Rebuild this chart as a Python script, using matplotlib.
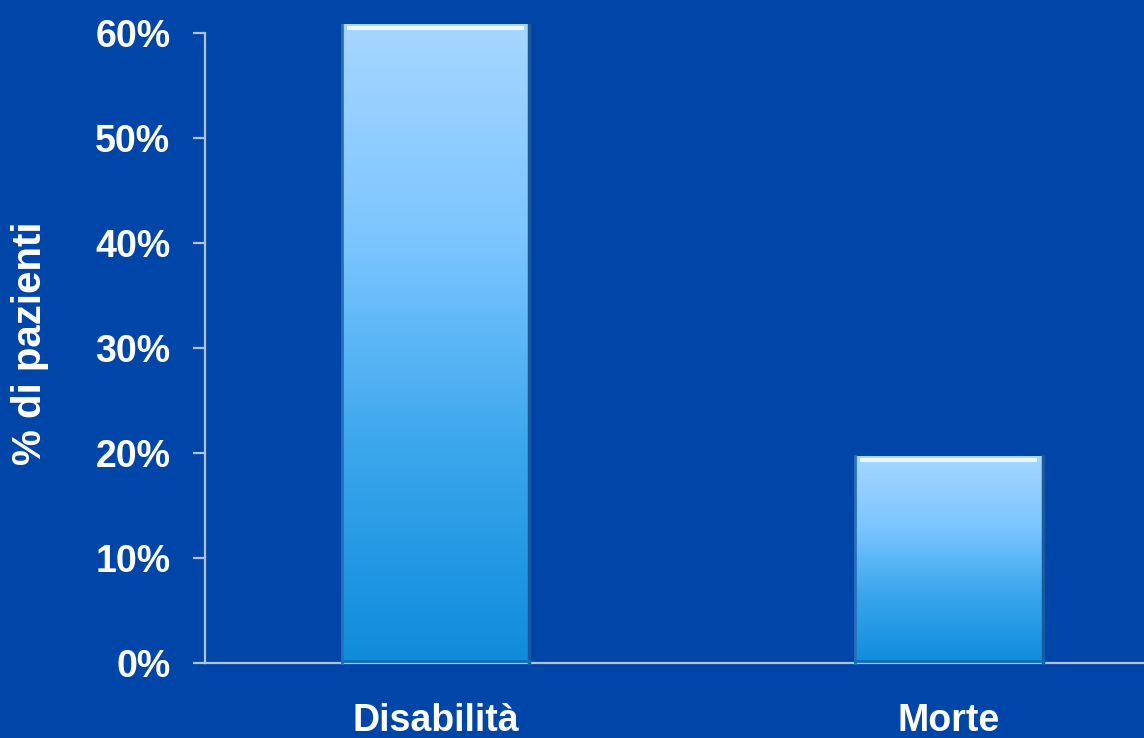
import numpy as np
import matplotlib
matplotlib.use("Agg")
import matplotlib.pyplot as plt
from matplotlib.colors import LinearSegmentedColormap

categories = ["Disabilità", "Morte"]
values = [60.8, 19.7]
yticks = [0, 10, 20, 30, 40, 50, 60]
ytick_labels = ["0%", "10%", "20%", "30%", "40%", "50%", "60%"]
ylabel = "% di pazienti"

bg = "#0045A8"
axis_col = "#AFC3E6"
plt.rcParams['font.family'] = ['Liberation Sans', 'DejaVu Sans']

fig = plt.figure(figsize=(11.44, 7.38), dpi=100, facecolor=bg)
ax = fig.add_axes([205/1144, 75/738, 1 - 205/1144, (663-33)/738])
ax.set_facecolor(bg)

x = np.arange(len(categories))
width = 0.365
bars = ax.bar(x, values, width=width, color="none", edgecolor="none", clip_on=False, zorder=2)

cmap = LinearSegmentedColormap.from_list("g", ["#0F8CDC", "#3AA6EC", "#7CC6FF", "#A6D6FF"])
grad = np.linspace(0, 1, 256).reshape(-1, 1)
for b in bars:
    x0, w, h = b.get_x(), b.get_width(), b.get_height()
    ax.imshow(grad, cmap=cmap, origin="lower", aspect="auto",
              extent=(x0, x0 + w, 0, h), zorder=2, clip_on=False)
    ax.plot([x0, x0], [0, h], color="#2A6FB8", lw=2, zorder=3, clip_on=False)
    ax.plot([x0 + w, x0 + w], [0, h], color="#1A5A9C", lw=2.5, zorder=3, clip_on=False)
    ax.plot([x0 + 0.01, x0 + w - 0.01], [h - 0.35, h - 0.35], color="#E8F8FF", lw=3, zorder=3,
            clip_on=False, solid_capstyle="butt")
    ax.plot([x0, x0 + w], [0.15, 0.15], color="#0A6FB8", lw=2, zorder=3, clip_on=False)

ax.set_xlim(-0.449, 1.38)
ax.set_ylim(0, 60)
ax.set_yticks(yticks)
ax.set_yticklabels(ytick_labels)
ax.set_xticks(x)
ax.set_xticklabels(categories)

for s in ["top", "right"]:
    ax.spines[s].set_visible(False)
for s in ["left", "bottom"]:
    ax.spines[s].set_color(axis_col)
    ax.spines[s].set_linewidth(1.6)

ax.tick_params(axis="y", colors=axis_col, length=9, width=1.6, direction="out", pad=16,
               labelcolor="white", labelsize=27)
ax.tick_params(axis="x", length=0, pad=29, labelcolor="white", labelsize=27)
for lab in ax.get_yticklabels() + ax.get_xticklabels():
    lab.set_fontweight("bold")

fig.text(30/1144, 1 - 343/738, ylabel, rotation=90, color="white", fontsize=29,
         fontweight="bold", ha="center", va="center")

fig.savefig("out.png", dpi=100, facecolor=bg)
